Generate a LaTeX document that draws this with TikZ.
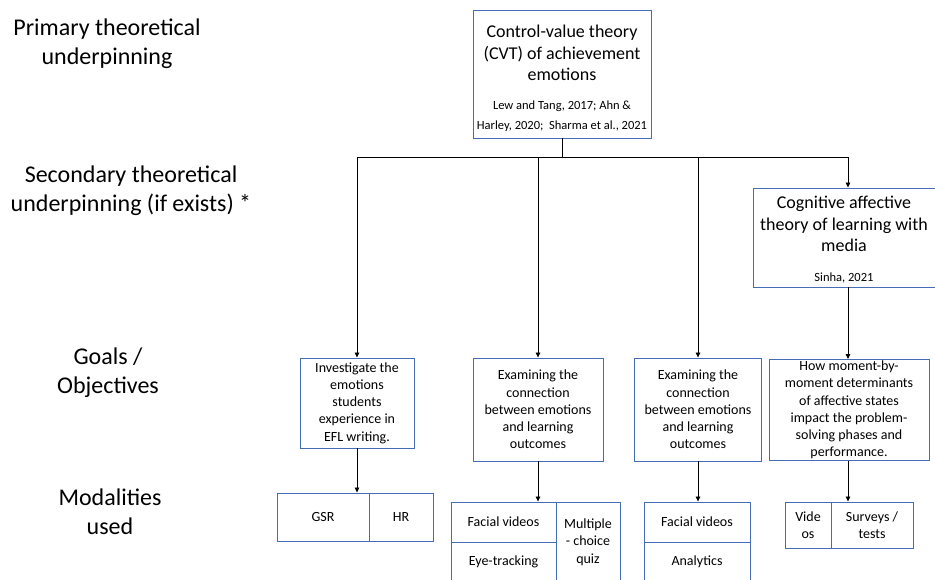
\documentclass[tikz,border=0pt]{standalone}
\usepackage{fontspec}
\setmainfont{Carlito}
\usetikzlibrary{arrows.meta,positioning}
\definecolor{boxblue}{RGB}{68,108,184}

\tikzset{
  box/.style={draw=boxblue, line width=0.9pt, inner sep=0pt},
  side/.style={align=center, font=\fontsize{24}{29}\selectfont},
  head/.style={align=center, font=\fontsize{18}{21.5}\selectfont},
  cite/.style={align=center, font=\fontsize{12.5}{20}\selectfont},
  goal/.style={box, align=center, font=\fontsize{14}{17.3}\selectfont},
  mod/.style={box, align=center, font=\fontsize{14}{17.3}\selectfont},
  link/.style={line width=0.8pt, -{Triangle[length=5pt,width=4.5pt]}}
}

\begin{document}
\begin{tikzpicture}[x=1pt, y=-1pt]
  \useasboundingbox (0,0) rectangle (935,580);

  % row labels
  \node (primary) [side] at (107,44) {Primary theoretical\\underpinning};
  \node (secondary) [side] at (131,191) {Secondary theoretical\\underpinning (if exists) *};
  \node (goals) [side] at (108,373) {Goals /\\Objectives};
  \node (modalities) [side] at (110,512) {Modalities\\used};

  % theories
  \node (cvt) [box, minimum width=178, minimum height=128] at (562,74) {};
  \node (cvttitle) [head] at (562,53) {Control-value theory\\(CVT) of achievement\\emotions};
  \node (cvtcite) [cite] at (562,116) {Lew and Tang, 2017; Ahn \&\\Harley, 2020;\ \ Sharma et al., 2021};

  \node (cat) [box, minimum width=190, minimum height=99] at (848,237.5) {};
  \node (cattitle) [head] at (844,224) {Cognitive affective\\theory of learning with\\media};
  \node (catcite) [cite] at (844,278) {Sinha, 2021};

  % goals
  \node (g1) [goal, minimum width=114, minimum height=90] at (357,403)
    {Investigate the\\emotions\\students\\experience in\\EFL writing.};
  \node (g2) [goal, minimum width=130, minimum height=103] at (538,409.5)
    {Examining the\\connection\\between emotions\\and learning\\outcomes};
  \node (g3) [goal, minimum width=127, minimum height=103] at (698,409.5)
    {Examining the\\connection\\between emotions\\and learning\\outcomes};
  \node (g4) [goal, minimum width=160, minimum height=101] at (849,410)
    {How moment-by-\\moment determinants\\of affective states\\impact the problem-\\solving phases and\\performance.};

  % modalities
  \node (gsr) [mod, minimum width=92, minimum height=48] at (323,517) {GSR};
  \node (hr) [mod, minimum width=64, minimum height=48] at (401,517) {HR};

  \node (face1) [mod, minimum width=105, minimum height=40] at (503.5,522) {Facial videos};
  \node (eye1) [mod, minimum width=105, minimum height=40] at (503.5,562) {Eye-tracking};
  \node (quiz) [mod, minimum width=64, minimum height=80] at (588,542) {Multiple\\- choice\\quiz};

  \node (face2) [mod, minimum width=106, minimum height=40] at (697,522) {Facial videos};
  \node (analytics) [mod, minimum width=106, minimum height=40] at (697,562) {Analytics};

  \node (vid) [mod, minimum width=46, minimum height=46] at (808,525) {Vide\\os};
  \node (surv) [mod, minimum width=82, minimum height=46] at (872,525) {Surveys /\\tests};

  % connectors
  \coordinate (split) at (562,157);
  \draw [line width=0.8pt] (cvt.south) -- (split);
  \draw [link] (split) -| (g1.north);
  \draw [link] (split) -| (g2.north);
  \draw [link] (split) -| (g3.north);
  \draw [link] (split) -| (cat.north);
  \draw [link] (cat.south) -- (cat.south |- g4.north);

  \draw [link] (g1.south) -- (g1.south |- gsr.north);
  \draw [link] (g2.south) -- (g2.south |- face1.north);
  \draw [link] (g3.south) -- (g3.south |- face2.north);
  \draw [link] (g4.south -| cat.south) -- (cat.south |- surv.north);
\end{tikzpicture}
\end{document}
